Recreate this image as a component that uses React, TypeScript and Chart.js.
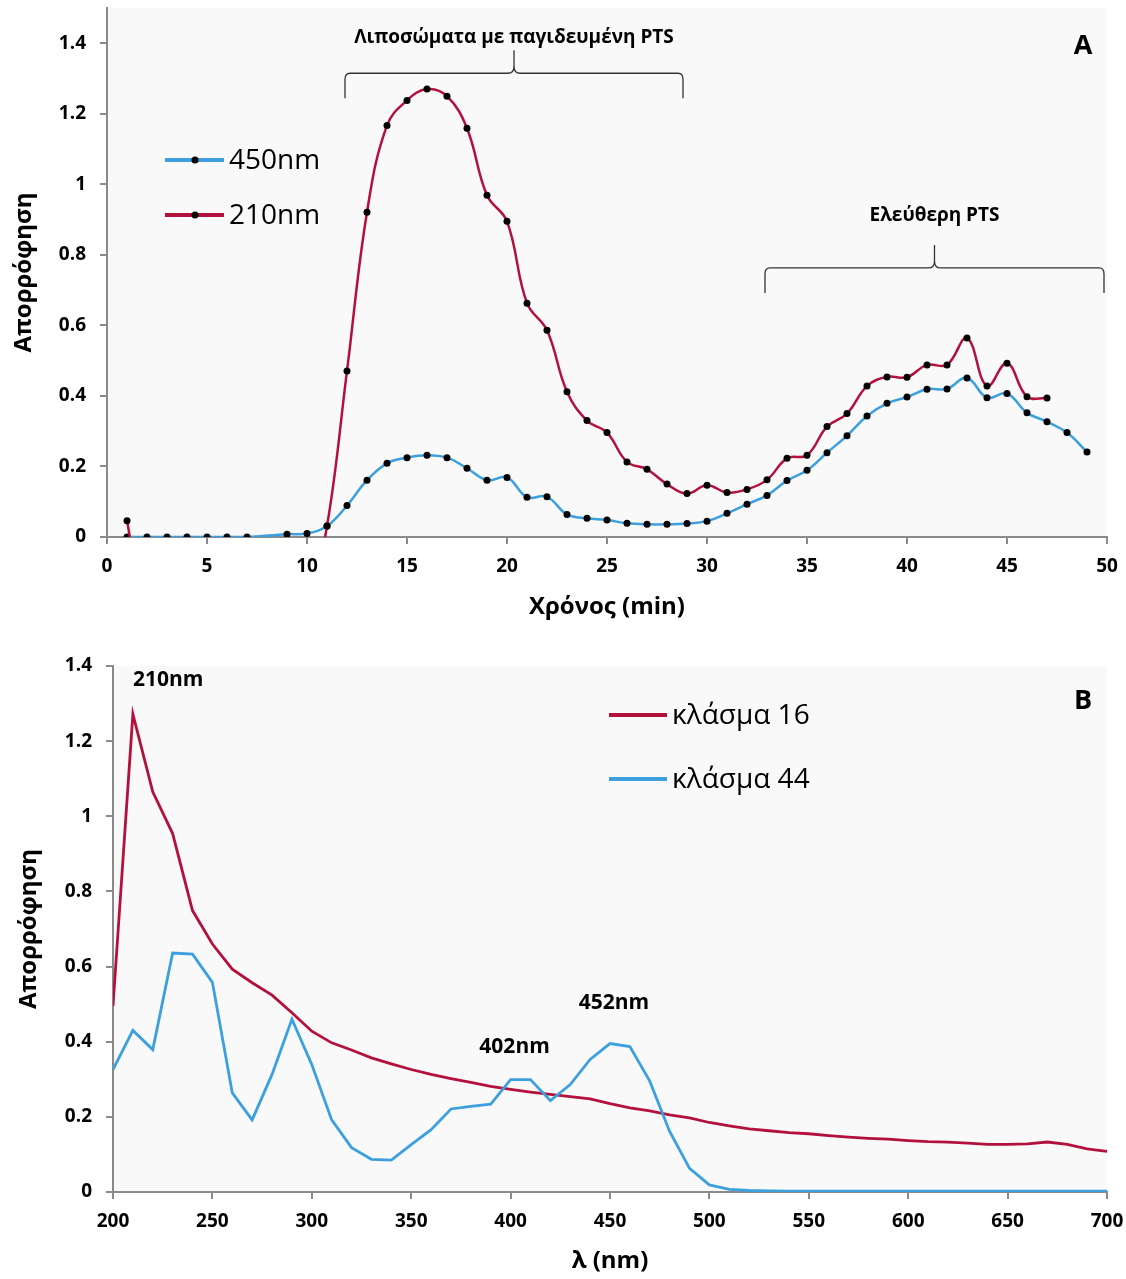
import React, { useEffect, useRef } from 'react';
import { Chart, registerables } from 'chart.js';

Chart.register(...registerables);

// ---------- Panel A data ----------
const timeMin = [
  1, 2, 3, 4, 5, 6, 7, 8, 9, 10, 11, 12, 13, 14, 15, 16, 17, 18, 19, 20, 21, 22, 23, 24, 25,
  26, 27, 28, 29, 30, 31, 32, 33, 34, 35, 36, 37, 38, 39, 40, 41, 42, 43, 44, 45, 46, 47, 48, 49,
];
const abs450 = [
  0, 0, 0, 0, 0, 0, 0, null, 0.008, 0.01, 0.031, 0.089, 0.161, 0.209, 0.225, 0.232, 0.225, 0.195,
  0.161, 0.169, 0.113, 0.114, 0.064, 0.053, 0.048, 0.039, 0.036, 0.036, 0.038, 0.045, 0.067, 0.093,
  0.118, 0.16, 0.189, 0.239, 0.287, 0.343, 0.379, 0.397, 0.419, 0.42, 0.451, 0.395, 0.407, 0.352,
  0.327, 0.296, 0.241,
];
const abs210 = [
  0.046, -0.25, -0.3, -0.3, -0.3, -0.3, -0.3, -0.3, -0.3, -0.2, 0.031, 0.471, 0.921, 1.167, 1.238,
  1.27, 1.25, 1.159, 0.969, 0.895, 0.663, 0.586, 0.412, 0.33, 0.296, 0.213, 0.192, 0.15, 0.123,
  0.147, 0.126, 0.135, 0.162, 0.223, 0.232, 0.313, 0.35, 0.428, 0.454, 0.453, 0.488, 0.488, 0.564,
  0.428, 0.493, 0.398, 0.394,
];
const seriesNamesA = ['450nm', '210nm'];
const braceLabelsA = ['Λιποσώματα με παγιδευμένη PTS', 'Ελεύθερη PTS'];

// ---------- Panel B data ----------
const wavelengthNm = [
  200, 210, 220, 230, 240, 250, 260, 270, 280, 290, 300, 310, 320, 330, 340, 350, 360, 370, 380,
  390, 400, 410, 420, 430, 440, 450, 460, 470, 480, 490, 500, 510, 520, 530, 540, 550, 560, 570,
  580, 590, 600, 610, 620, 630, 640, 650, 660, 670, 680, 690, 700,
];
const fraction16 = [
  0.495, 1.272, 1.065, 0.954, 0.749, 0.66, 0.593, 0.557, 0.524, 0.477, 0.428, 0.397, 0.378, 0.357,
  0.341, 0.326, 0.313, 0.302, 0.292, 0.281, 0.273, 0.266, 0.26, 0.254, 0.248, 0.235, 0.224, 0.216,
  0.205, 0.197, 0.185, 0.176, 0.168, 0.163, 0.158, 0.155, 0.15, 0.146, 0.143, 0.141, 0.137, 0.134,
  0.133, 0.13, 0.127, 0.127, 0.128, 0.133, 0.127, 0.115, 0.108,
];
const fraction44 = [
  0.326, 0.43, 0.379, 0.636, 0.633, 0.558, 0.264, 0.192, 0.313, 0.46, 0.339, 0.192, 0.118, 0.087,
  0.085, 0.126, 0.166, 0.221, 0.228, 0.234, 0.299, 0.299, 0.243, 0.286, 0.353, 0.395, 0.387, 0.295,
  0.161, 0.063, 0.019, 0.007, 0.004, 0.003, 0.002, 0.002, 0.002, 0.002, 0.002, 0.002, 0.002, 0.002,
  0.002, 0.002, 0.002, 0.002, 0.002, 0.002, 0.002, 0.002, 0.002,
];
const seriesNamesB = ['κλάσμα 16', 'κλάσμα 44'];
const peakLabelsB = ['210nm', '402nm', '452nm'];

const yAxisTitle = 'Απορρόφηση';
const xAxisTitleA = 'Χρόνος (min)';
const xAxisTitleB = 'λ (nm)';

const RED = '#B3113C';
const BLUE = '#3C9FDE';
const AXIS = '#8a8a8a';
const FONT = '"Open Sans", "DejaVu Sans", sans-serif';

const fmt = (v: any) => String(+(+v).toFixed(1));

const bgPlugin = {
  id: 'plotBg',
  beforeDraw(chart: any) {
    const { ctx, chartArea: a } = chart;
    ctx.save();
    ctx.fillStyle = '#F9F9F9';
    ctx.fillRect(a.left, a.top, a.right - a.left, a.bottom - a.top);
    ctx.restore();
  },
};

function axisCommon() {
  return {
    grid: { display: true, drawOnChartArea: false, drawTicks: true, tickLength: 7, color: AXIS, lineWidth: 2 },
    border: { display: true, color: AXIS, width: 2 },
  };
}

function fixX(h: number) {
  return (s: any) => {
    s.height = h;
    s.paddingLeft = 0;
    s.paddingRight = 0;
  };
}
function fixY(w: number) {
  return (s: any) => {
    s.width = w;
    s.paddingTop = 0;
    s.paddingBottom = 0;
  };
}

function drawBrace(ctx: any, x1: number, x2: number, yLine: number, yEnd: number, yTip: number) {
  const xm = (x1 + x2) / 2;
  ctx.beginPath();
  ctx.moveTo(x1, yEnd);
  ctx.lineTo(x1, yLine + 6);
  ctx.quadraticCurveTo(x1, yLine, x1 + 5, yLine);
  ctx.lineTo(xm - 6, yLine);
  ctx.quadraticCurveTo(xm, yLine, xm, yLine - 7);
  ctx.lineTo(xm, yTip);
  ctx.moveTo(xm, yLine - 7);
  ctx.quadraticCurveTo(xm, yLine, xm + 6, yLine);
  ctx.lineTo(x2 - 5, yLine);
  ctx.quadraticCurveTo(x2, yLine, x2, yLine + 6);
  ctx.lineTo(x2, yEnd);
  ctx.stroke();
}

const overlayA = {
  id: 'overlayA',
  afterDraw(chart: any) {
    const { ctx, chartArea: a } = chart;
    const xs = chart.scales.x;
    const ys = chart.scales.y;
    ctx.save();
    // legend
    const legendY = [160, 215];
    chart.data.datasets.forEach((ds: any, i: number) => {
      const y = legendY[i];
      ctx.strokeStyle = ds.borderColor;
      ctx.lineWidth = 4;
      ctx.beginPath();
      ctx.moveTo(165, y);
      ctx.lineTo(224, y);
      ctx.stroke();
      ctx.fillStyle = '#000';
      ctx.beginPath();
      ctx.arc(195, y, 3.5, 0, Math.PI * 2);
      ctx.fill();
      ctx.font = `28px ${FONT}`;
      ctx.textAlign = 'left';
      ctx.textBaseline = 'middle';
      ctx.fillText(ds.label, 229, y + 1);
    });
    // braces
    ctx.strokeStyle = '#333';
    ctx.lineWidth = 1.3;
    const braces = [
      { x1: 11.9, x2: 28.8, yl: 1.315, ye: 1.244, yt: 1.38, ty: 1.415, label: braceLabelsA[0] },
      { x1: 32.9, x2: 49.85, yl: 0.763, ye: 0.692, yt: 0.828, ty: 0.912, label: braceLabelsA[1] },
    ];
    braces.forEach((b) => {
      const x1 = xs.getPixelForValue(b.x1);
      const x2 = xs.getPixelForValue(b.x2);
      drawBrace(ctx, x1, x2, ys.getPixelForValue(b.yl), ys.getPixelForValue(b.ye), ys.getPixelForValue(b.yt));
      ctx.fillStyle = '#000';
      ctx.font = `bold 19px ${FONT}`;
      ctx.textAlign = 'center';
      ctx.textBaseline = 'middle';
      ctx.fillText(b.label, (x1 + x2) / 2, ys.getPixelForValue(b.ty));
    });
    // panel letter
    ctx.font = `bold 27px ${FONT}`;
    ctx.textAlign = 'center';
    ctx.textBaseline = 'middle';
    ctx.fillText('A', a.right - 24, a.top + 38);
    ctx.restore();
  },
};

const overlayB = {
  id: 'overlayB',
  afterDraw(chart: any) {
    const { ctx, chartArea: a } = chart;
    const xs = chart.scales.x;
    const ys = chart.scales.y;
    ctx.save();
    const legendY = [70, 134];
    chart.data.datasets.forEach((ds: any, i: number) => {
      const y = legendY[i];
      ctx.strokeStyle = ds.borderColor;
      ctx.lineWidth = 4;
      ctx.beginPath();
      ctx.moveTo(609, y);
      ctx.lineTo(667, y);
      ctx.stroke();
      ctx.fillStyle = '#000';
      ctx.font = `28px ${FONT}`;
      ctx.textAlign = 'left';
      ctx.textBaseline = 'middle';
      ctx.fillText(ds.label, 672, y + 1);
    });
    ctx.fillStyle = '#000';
    ctx.font = `bold 21px ${FONT}`;
    ctx.textBaseline = 'middle';
    ctx.textAlign = 'left';
    ctx.fillText(peakLabelsB[0], xs.getPixelForValue(210), ys.getPixelForValue(1.363));
    ctx.textAlign = 'center';
    ctx.fillText(peakLabelsB[1], xs.getPixelForValue(402), ys.getPixelForValue(0.385));
    ctx.fillText(peakLabelsB[2], xs.getPixelForValue(452), ys.getPixelForValue(0.502));
    ctx.font = `bold 27px ${FONT}`;
    ctx.fillText('B', a.right - 24, a.top + 35);
    ctx.restore();
  },
};

export default function App() {
  const refA = useRef<HTMLCanvasElement | null>(null);
  const refB = useRef<HTMLCanvasElement | null>(null);

  useEffect(() => {
    const tickFont = { family: FONT, size: 19, weight: 'bold' as const };
    const titleFont = { family: FONT, size: 24, weight: 'bold' as const };

    const chartA = new Chart(refA.current as HTMLCanvasElement, {
      type: 'line',
      data: {
        datasets: [
          {
            label: seriesNamesA[0],
            data: timeMin.map((t, i) => ({ x: t, y: abs450[i] })),
            borderColor: BLUE,
            borderWidth: 2.5,
            pointRadius: 3.5,
            pointBackgroundColor: '#000',
            pointBorderWidth: 0,
            tension: 0.4,
            spanGaps: true,
            order: 2,
          },
          {
            label: seriesNamesA[1],
            data: abs210.map((v, i) => ({ x: timeMin[i], y: v })),
            borderColor: RED,
            borderWidth: 2.5,
            pointRadius: 3.5,
            pointBackgroundColor: '#000',
            pointBorderWidth: 0,
            tension: 0.4,
            order: 1,
            clip: { left: 6, right: 6, top: 6, bottom: 0 },
          },
        ] as any,
      },
      options: {
        animation: false,
        responsive: false,
        events: [],
        layout: { padding: { left: 0, right: 19, top: 8, bottom: 8 } },
        plugins: { legend: { display: false }, tooltip: { enabled: false } },
        scales: {
          x: {
            type: 'linear',
            min: 0,
            max: 50,
            ...axisCommon(),
            ticks: { stepSize: 5, color: '#000', font: tickFont, padding: 11, maxRotation: 0 },
            title: { display: true, text: xAxisTitleA, color: '#000', font: titleFont, padding: { top: 0, bottom: 10 } },
            afterFit: fixX(95),
          },
          y: {
            type: 'linear',
            min: 0,
            max: 1.5,
            ...axisCommon(),
            ticks: { stepSize: 0.2, includeBounds: false, color: '#000', font: tickFont, padding: 14, callback: fmt },
            title: { display: true, text: yAxisTitle, color: '#000', font: titleFont, padding: { top: 10, bottom: 0 } },
            afterFit: fixY(107),
          },
        } as any,
      },
      plugins: [bgPlugin, overlayA],
    });

    const chartB = new Chart(refB.current as HTMLCanvasElement, {
      type: 'line',
      data: {
        datasets: [
          {
            label: seriesNamesB[0],
            data: wavelengthNm.map((w, i) => ({ x: w, y: fraction16[i] })),
            borderColor: RED,
            borderWidth: 2.8,
            pointRadius: 0,
            tension: 0,
            order: 2,
          },
          {
            label: seriesNamesB[1],
            data: wavelengthNm.map((w, i) => ({ x: w, y: fraction44[i] })),
            borderColor: BLUE,
            borderWidth: 2.8,
            pointRadius: 0,
            tension: 0,
            order: 1,
          },
        ] as any,
      },
      options: {
        animation: false,
        responsive: false,
        events: [],
        layout: { padding: { left: 0, right: 19, top: 21, bottom: 0 } },
        plugins: { legend: { display: false }, tooltip: { enabled: false } },
        scales: {
          x: {
            type: 'linear',
            min: 200,
            max: 700,
            ...axisCommon(),
            ticks: { stepSize: 50, color: '#000', font: tickFont, padding: 11, maxRotation: 0 },
            title: { display: true, text: xAxisTitleB, color: '#000', font: titleFont, padding: { top: 0, bottom: 3 } },
            afterFit: fixX(87),
          },
          y: {
            type: 'linear',
            min: 0,
            max: 1.4,
            ...axisCommon(),
            ticks: { stepSize: 0.2, color: '#000', font: tickFont, padding: 14, callback: fmt },
            title: { display: true, text: yAxisTitle, color: '#000', font: titleFont, padding: { top: 15, bottom: 0 } },
            afterFit: fixY(113),
          },
        } as any,
      },
      plugins: [bgPlugin, overlayB],
    });

    return () => {
      chartA.destroy();
      chartB.destroy();
    };
  }, []);

  return (
    <div style={{ position: 'absolute', left: 0, top: 0, width: 1126, height: 1279, background: '#fff' }}>
      <canvas ref={refA} width={1126} height={640} style={{ position: 'absolute', left: 0, top: 0, display: 'block' }} />
      <canvas ref={refB} width={1126} height={634} style={{ position: 'absolute', left: 0, top: 645, display: 'block' }} />
    </div>
  );
}
